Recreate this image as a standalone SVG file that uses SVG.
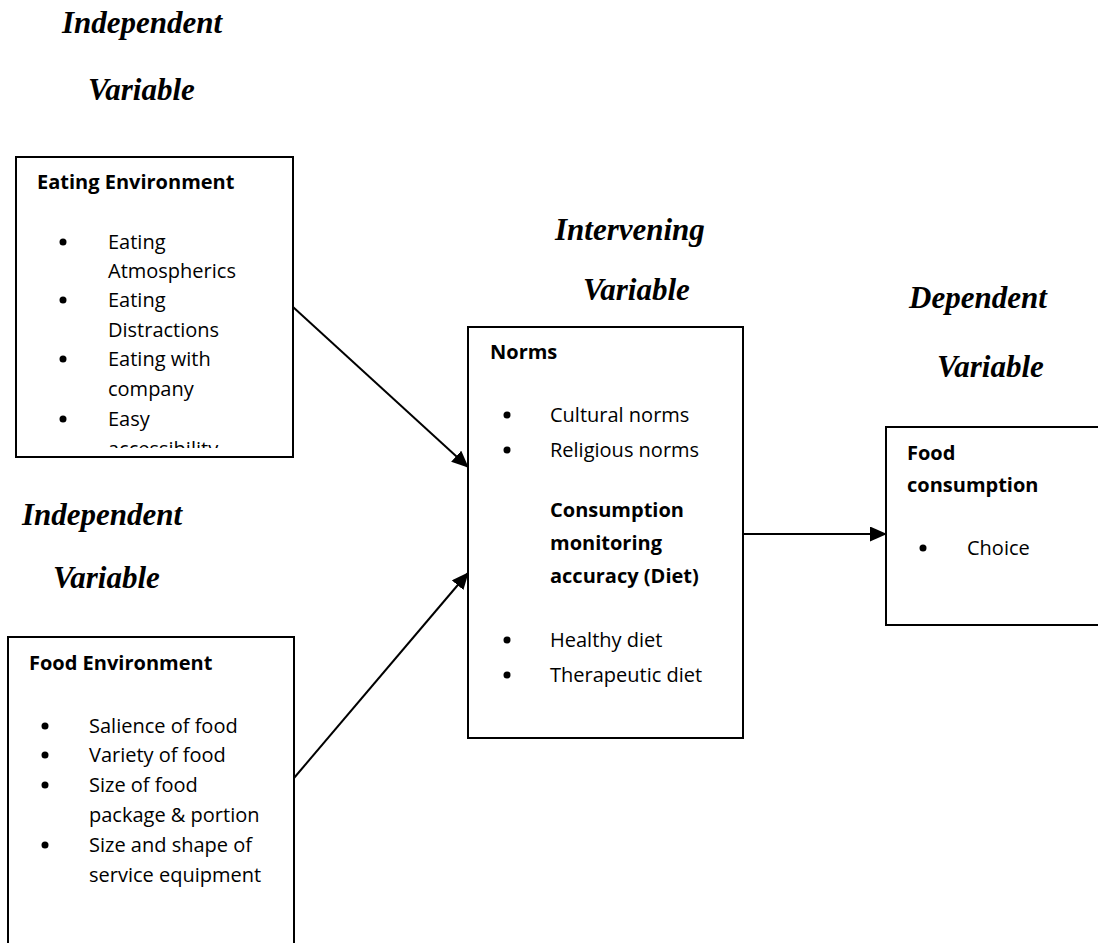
<svg xmlns="http://www.w3.org/2000/svg" width="1098" height="943" viewBox="0 0 1098 943">
<style>
.hdr{font-family:"Liberation Serif","Times New Roman",serif;font-weight:bold;font-style:italic;font-size:31px;fill:#000}
.box{fill:#fff;stroke:#000;stroke-width:2}
.t{font-family:"Open Sans","Noto Sans",sans-serif;font-size:20px;fill:#000}
.b{font-family:"Open Sans","Noto Sans",sans-serif;font-size:20px;font-weight:bold;fill:#000}
.dot{fill:#000}
.conn{stroke:#000;stroke-width:2;fill:none;marker-end:url(#arr)}
</style>
<defs>
<marker id="arr" markerWidth="17" markerHeight="15" refX="16" refY="7.5" orient="auto" markerUnits="userSpaceOnUse">
<path d="M0,0 L17,7.5 L0,15 Z" fill="#000"/>
</marker>
<clipPath id="clipEE"><rect x="17" y="158" width="275" height="290"/></clipPath>
</defs>
<rect width="1098" height="943" fill="#fff"/>

<g id="labels">
<text class="hdr" x="62" y="33">Independent</text>
<text class="hdr" x="88" y="100">Variable</text>
<text class="hdr" x="22" y="525">Independent</text>
<text class="hdr" x="53" y="588">Variable</text>
<text class="hdr" x="555" y="240">Intervening</text>
<text class="hdr" x="583" y="300">Variable</text>
<text class="hdr" x="909" y="308">Dependent</text>
<text class="hdr" x="937" y="377">Variable</text>
</g>

<g id="connectors">
<line class="conn" x1="293" y1="307" x2="468" y2="467"/>
<line class="conn" x1="294" y1="778" x2="468" y2="573"/>
<line class="conn" x1="743" y1="534" x2="886" y2="534"/>
</g>

<g id="eating-environment">
<rect class="box" x="16" y="157" width="277" height="300"/>
<text class="b" x="37" y="189">Eating Environment</text>
<g clip-path="url(#clipEE)">
<circle class="dot" cx="63" cy="242" r="3.5"/>
<text class="t" x="108" y="249">Eating</text>
<text class="t" x="108" y="278">Atmospherics</text>
<circle class="dot" cx="63" cy="300" r="3.5"/>
<text class="t" x="108" y="307">Eating</text>
<text class="t" x="108" y="337">Distractions</text>
<circle class="dot" cx="63" cy="359" r="3.5"/>
<text class="t" x="108" y="366">Eating with</text>
<text class="t" x="108" y="396">company</text>
<circle class="dot" cx="63" cy="419" r="3.5"/>
<text class="t" x="108" y="426">Easy</text>
<text class="t" x="108" y="456">accessibility</text>
</g>
</g>

<g id="food-environment">
<rect class="box" x="8" y="637" width="286" height="330"/>
<text class="b" x="29" y="670">Food Environment</text>
<circle class="dot" cx="45" cy="726" r="3.5"/>
<text class="t" x="89" y="733">Salience of food</text>
<circle class="dot" cx="45" cy="755" r="3.5"/>
<text class="t" x="89" y="762">Variety of food</text>
<circle class="dot" cx="45" cy="785" r="3.5"/>
<text class="t" x="89" y="792">Size of food</text>
<text class="t" x="89" y="822">package &amp; portion</text>
<circle class="dot" cx="45" cy="845" r="3.5"/>
<text class="t" x="89" y="852">Size and shape of</text>
<text class="t" x="89" y="882">service equipment</text>
</g>

<g id="norms">
<rect class="box" x="468" y="327" width="275" height="411"/>
<text class="b" x="490" y="359">Norms</text>
<circle class="dot" cx="507" cy="415" r="3.5"/>
<text class="t" x="550" y="422">Cultural norms</text>
<circle class="dot" cx="507" cy="450" r="3.5"/>
<text class="t" x="550" y="457">Religious norms</text>
<text class="b" x="550" y="517">Consumption</text>
<text class="b" x="550" y="550">monitoring</text>
<text class="b" x="550" y="583">accuracy (Diet)</text>
<circle class="dot" cx="507" cy="640" r="3.5"/>
<text class="t" x="550" y="647">Healthy diet</text>
<circle class="dot" cx="507" cy="675" r="3.5"/>
<text class="t" x="550" y="682">Therapeutic diet</text>
</g>

<g id="food-consumption">
<rect class="box" x="886" y="427" width="240" height="198"/>
<text class="b" x="907" y="460">Food</text>
<text class="b" x="907" y="492">consumption</text>
<circle class="dot" cx="923" cy="548" r="3.5"/>
<text class="t" x="967" y="555">Choice</text>
</g>
</svg>
